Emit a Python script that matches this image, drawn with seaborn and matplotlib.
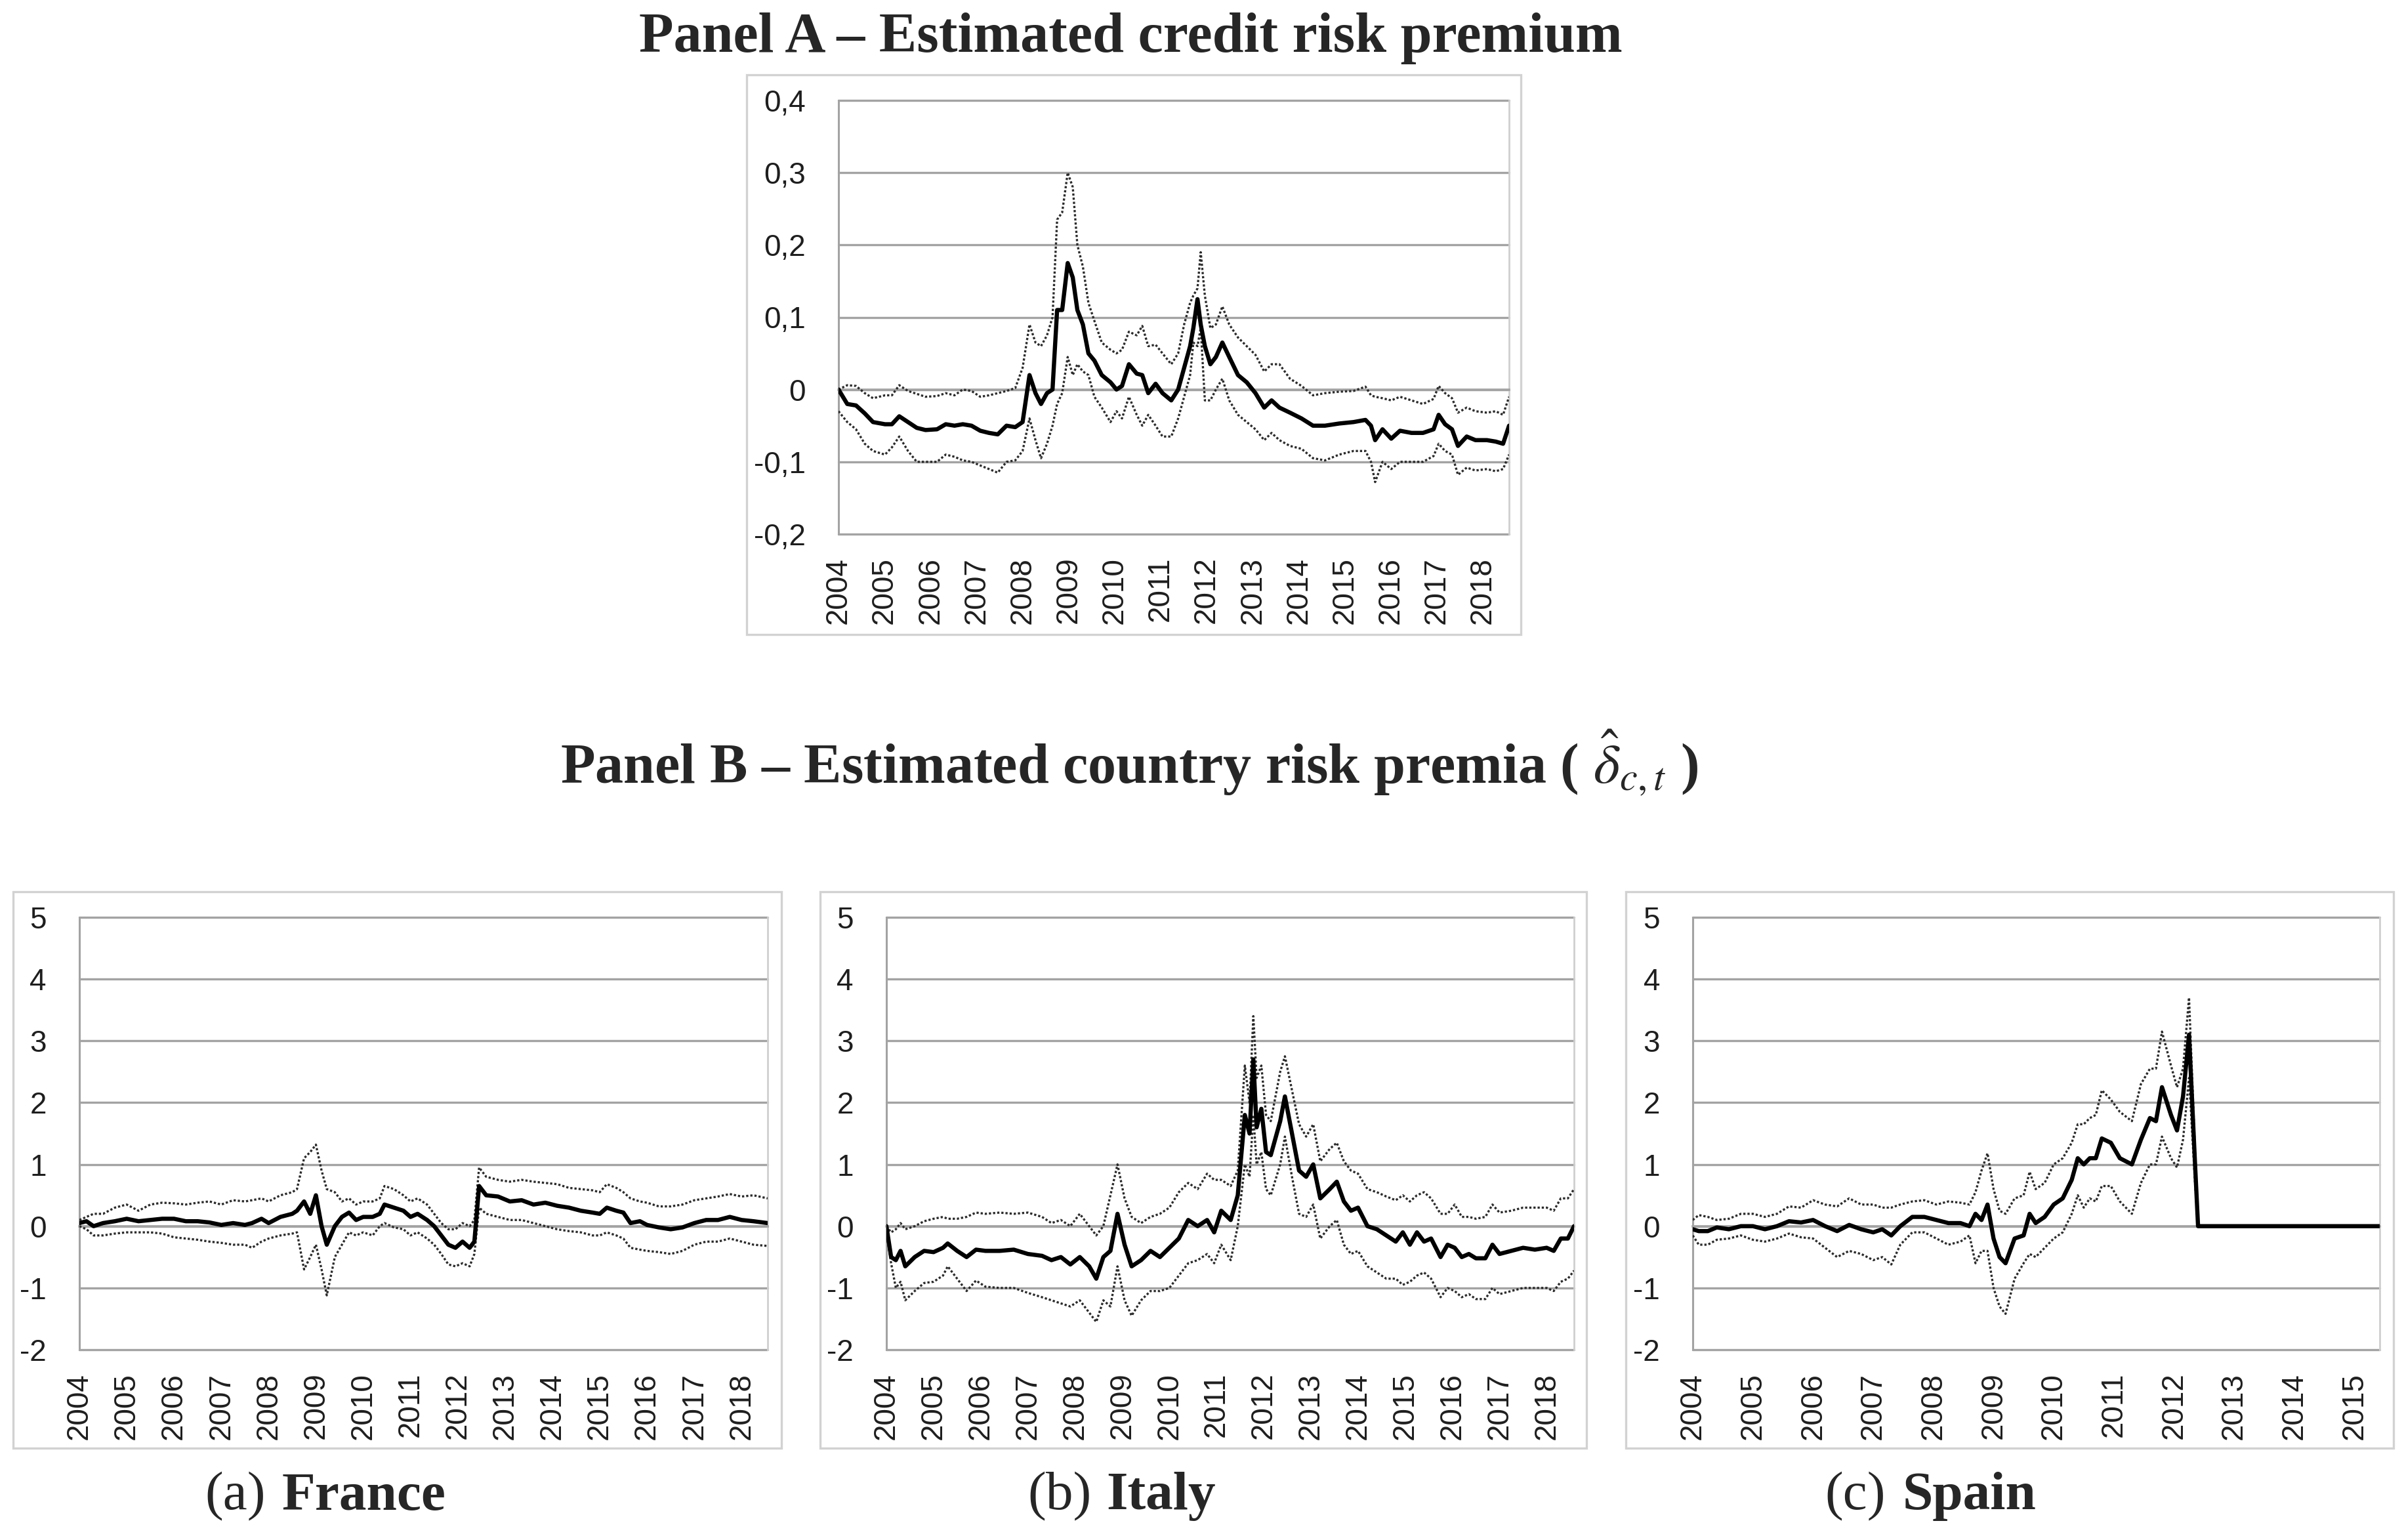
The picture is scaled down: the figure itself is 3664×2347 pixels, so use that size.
import matplotlib
matplotlib.use('Agg')
import matplotlib.pyplot as plt
from matplotlib.patches import Rectangle
import pandas as pd
import seaborn as sns

# ---- Panel A: estimated credit risk premium (x in decimal years) ----
a_years = [2004.00, 2004.19, 2004.38, 2004.57, 2004.75, 2005.01, 2005.16, 2005.32, 2005.51, 2005.70,
           2005.89, 2006.14, 2006.33, 2006.52, 2006.70, 2006.89, 2007.08, 2007.27, 2007.46, 2007.65,
           2007.84, 2008.00, 2008.15, 2008.28, 2008.40, 2008.53, 2008.65, 2008.75, 2008.86, 2008.98,
           2009.09, 2009.19, 2009.31, 2009.43, 2009.56, 2009.72, 2009.91, 2010.04, 2010.16, 2010.31,
           2010.48, 2010.60, 2010.73, 2010.89, 2011.04, 2011.23, 2011.38, 2011.51, 2011.64, 2011.71,
           2011.80, 2011.87, 2011.96, 2012.08, 2012.20, 2012.34, 2012.49, 2012.68, 2012.87, 2013.06,
           2013.25, 2013.41, 2013.58, 2013.81, 2014.06, 2014.31, 2014.57, 2014.88, 2015.19, 2015.45,
           2015.57, 2015.66, 2015.82, 2016.01, 2016.20, 2016.45, 2016.70, 2016.93, 2017.04, 2017.18,
           2017.33, 2017.46, 2017.65, 2017.84, 2018.09, 2018.28, 2018.44, 2018.57]
a_mid = [0.0, -0.02, -0.022, -0.033, -0.045, -0.048, -0.048, -0.037, -0.045, -0.053,
         -0.056, -0.055, -0.048, -0.05, -0.048, -0.05, -0.057, -0.06, -0.062, -0.05,
         -0.052, -0.045, 0.02, -0.005, -0.02, -0.005, 0.0, 0.11, 0.11, 0.175,
         0.155, 0.11, 0.09, 0.05, 0.04, 0.02, 0.01, 0.0, 0.005, 0.035,
         0.022, 0.02, -0.005, 0.008, -0.005, -0.015, 0.0, 0.03, 0.06, 0.085,
         0.125, 0.09, 0.06, 0.035, 0.045, 0.065, 0.045, 0.02, 0.01, -0.005,
         -0.025, -0.015, -0.025, -0.032, -0.04, -0.05, -0.05, -0.047, -0.045, -0.042,
         -0.05, -0.07, -0.055, -0.068, -0.057, -0.06, -0.06, -0.055, -0.035, -0.048,
         -0.055, -0.078, -0.065, -0.07, -0.07, -0.072, -0.075, -0.05]
a_up = [0.0, 0.006, 0.005, -0.005, -0.012, -0.008, -0.008, 0.006, -0.002, -0.006,
        -0.01, -0.009, -0.005, -0.008, 0.0, -0.002, -0.01, -0.008, -0.005, -0.002,
        0.002, 0.03, 0.09, 0.065, 0.06, 0.075, 0.1, 0.235, 0.245, 0.3,
        0.28, 0.2, 0.17, 0.12, 0.095, 0.065, 0.055, 0.05, 0.055, 0.08,
        0.075, 0.088, 0.06, 0.062, 0.05, 0.035, 0.05, 0.09, 0.12, 0.13,
        0.14, 0.19, 0.13, 0.085, 0.09, 0.115, 0.09, 0.072, 0.06, 0.048,
        0.025, 0.035, 0.035, 0.015, 0.005, -0.008, -0.005, -0.003, -0.002, 0.004,
        -0.008, -0.01, -0.012, -0.015, -0.01, -0.015, -0.02, -0.013, 0.005, -0.005,
        -0.012, -0.032, -0.025, -0.03, -0.032, -0.03, -0.035, -0.01]
a_lo = [-0.03, -0.045, -0.055, -0.075, -0.085, -0.09, -0.08, -0.065, -0.085, -0.1,
        -0.1, -0.1, -0.09, -0.093, -0.098, -0.1, -0.105, -0.11, -0.115, -0.1,
        -0.098, -0.085, -0.04, -0.07, -0.095, -0.075, -0.05, -0.02, -0.005, 0.045,
        0.02, 0.035, 0.025, 0.02, -0.01, -0.025, -0.045, -0.03, -0.04, -0.01,
        -0.035, -0.05, -0.035, -0.05, -0.065, -0.065, -0.04, -0.01, 0.02, 0.065,
        0.06, 0.085, -0.015, -0.015, 0.0, 0.015, -0.015, -0.035, -0.045, -0.055,
        -0.07, -0.06, -0.07, -0.078, -0.082, -0.095, -0.098, -0.09, -0.085, -0.085,
        -0.1, -0.128, -0.1, -0.11, -0.1, -0.1, -0.1, -0.092, -0.075, -0.085,
        -0.09, -0.118, -0.108, -0.112, -0.11, -0.113, -0.11, -0.09]
a_yticks = [-0.2, -0.1, 0.0, 0.1, 0.2, 0.3, 0.4]
a_ylabels = ['-0,2', '-0,1', '0', '0,1', '0,2', '0,3', '0,4']

# ---- Panel B: country risk premia ----
fr_years = [2004.0, 2004.15, 2004.3, 2004.5, 2004.75, 2005.0, 2005.25, 2005.5, 2005.75, 2006.0,
            2006.25, 2006.5, 2006.75, 2007.0, 2007.25, 2007.5, 2007.65, 2007.85, 2008.0, 2008.25,
            2008.5, 2008.6, 2008.75, 2008.88, 2009.0, 2009.12, 2009.23, 2009.4, 2009.55, 2009.7,
            2009.85, 2010.0, 2010.2, 2010.35, 2010.45, 2010.65, 2010.85, 2011.0, 2011.15, 2011.35,
            2011.5, 2011.65, 2011.8, 2011.95, 2012.1, 2012.25, 2012.35, 2012.45, 2012.6, 2012.85,
            2013.1, 2013.35, 2013.6, 2013.85, 2014.1, 2014.35, 2014.6, 2014.85, 2015.0, 2015.15,
            2015.35, 2015.5, 2015.65, 2015.85, 2016.0, 2016.25, 2016.5, 2016.75, 2017.0, 2017.25,
            2017.5, 2017.75, 2018.0, 2018.25, 2018.55]
fr_mid = [0.05, 0.08, 0.0, 0.05, 0.08, 0.12, 0.08, 0.1, 0.12, 0.12,
          0.08, 0.08, 0.06, 0.02, 0.05, 0.02, 0.05, 0.12, 0.05, 0.15,
          0.2, 0.25, 0.4, 0.2, 0.5, 0.0, -0.3, 0.0, 0.15, 0.22,
          0.1, 0.15, 0.15, 0.2, 0.35, 0.3, 0.25, 0.15, 0.2, 0.1,
          0.0, -0.15, -0.3, -0.35, -0.25, -0.35, -0.25, 0.65, 0.5, 0.48,
          0.4, 0.42, 0.35, 0.38, 0.33, 0.3, 0.25, 0.22, 0.2, 0.3,
          0.25, 0.22, 0.05, 0.08, 0.02, -0.02, -0.05, -0.02, 0.05, 0.1,
          0.1, 0.15, 0.1, 0.08, 0.05]
fr_up = [0.1, 0.15, 0.2, 0.2, 0.3, 0.35, 0.25, 0.35, 0.38, 0.37,
         0.35, 0.38, 0.4, 0.35, 0.42, 0.4, 0.42, 0.45, 0.4, 0.5,
         0.55, 0.6, 1.1, 1.2, 1.32, 0.9, 0.6, 0.55, 0.4, 0.45,
         0.35, 0.4, 0.4, 0.45, 0.65, 0.6, 0.5, 0.4, 0.45, 0.35,
         0.2, 0.05, -0.05, -0.05, 0.05, 0.0, 0.1, 0.95, 0.8, 0.75,
         0.72, 0.75, 0.72, 0.7, 0.68, 0.62, 0.6, 0.58, 0.55, 0.68,
         0.62, 0.55, 0.45, 0.4, 0.38, 0.32, 0.32, 0.35, 0.42, 0.45,
         0.48, 0.52, 0.48, 0.5, 0.45]
fr_lo = [0.0, -0.05, -0.15, -0.15, -0.12, -0.1, -0.1, -0.1, -0.12, -0.18,
         -0.2, -0.22, -0.25, -0.27, -0.3, -0.3, -0.35, -0.25, -0.2, -0.15,
         -0.12, -0.1, -0.7, -0.5, -0.3, -0.7, -1.12, -0.5, -0.3, -0.1,
         -0.15, -0.1, -0.15, 0.0, 0.05, -0.02, -0.05, -0.15, -0.1, -0.2,
         -0.3, -0.45, -0.62, -0.65, -0.6, -0.65, -0.45, 0.3, 0.2, 0.15,
         0.1, 0.1, 0.05, 0.0, -0.05, -0.08, -0.1, -0.15, -0.15, -0.1,
         -0.15, -0.2, -0.35, -0.38, -0.4, -0.42, -0.45, -0.4, -0.3, -0.25,
         -0.25, -0.2, -0.25, -0.3, -0.32]

it_years = [2004.0, 2004.1, 2004.2, 2004.3, 2004.4, 2004.6, 2004.8, 2005.0, 2005.2, 2005.3,
            2005.5, 2005.7, 2005.9, 2006.1, 2006.4, 2006.7, 2007.0, 2007.3, 2007.5, 2007.7,
            2007.9, 2008.1, 2008.3, 2008.45, 2008.6, 2008.75, 2008.9, 2009.05, 2009.2, 2009.4,
            2009.6, 2009.8, 2010.0, 2010.2, 2010.4, 2010.6, 2010.8, 2010.95, 2011.1, 2011.3,
            2011.45, 2011.6, 2011.7, 2011.78, 2011.85, 2011.95, 2012.05, 2012.15, 2012.35, 2012.45,
            2012.6, 2012.75, 2012.9, 2013.05, 2013.2, 2013.4, 2013.55, 2013.7, 2013.85, 2014.0,
            2014.2, 2014.4, 2014.6, 2014.8, 2014.95, 2015.1, 2015.25, 2015.4, 2015.55, 2015.75,
            2015.9, 2016.05, 2016.2, 2016.35, 2016.5, 2016.7, 2016.85, 2017.0, 2017.25, 2017.5,
            2017.75, 2018.0, 2018.15, 2018.3, 2018.45, 2018.58]
it_mid = [0.0, -0.5, -0.55, -0.4, -0.65, -0.5, -0.4, -0.42, -0.35, -0.28,
          -0.4, -0.5, -0.38, -0.4, -0.4, -0.38, -0.45, -0.48, -0.55, -0.5,
          -0.62, -0.5, -0.65, -0.85, -0.5, -0.4, 0.2, -0.3, -0.65, -0.55,
          -0.4, -0.5, -0.35, -0.2, 0.1, 0.0, 0.1, -0.1, 0.25, 0.1,
          0.5, 1.8, 1.5, 2.7, 1.6, 1.9, 1.2, 1.15, 1.7, 2.1,
          1.5, 0.9, 0.8, 1.0, 0.45, 0.6, 0.72, 0.4, 0.25, 0.3,
          0.0, -0.05, -0.15, -0.25, -0.1, -0.3, -0.1, -0.25, -0.2, -0.5,
          -0.3, -0.35, -0.5, -0.45, -0.52, -0.52, -0.3, -0.45, -0.4, -0.35,
          -0.38, -0.35, -0.4, -0.2, -0.2, 0.0]
it_up = [0.0, -0.1, -0.05, 0.05, -0.05, 0.0, 0.08, 0.12, 0.15, 0.12,
         0.12, 0.15, 0.22, 0.2, 0.22, 0.2, 0.22, 0.15, 0.05, 0.1,
         0.0, 0.2, 0.0, -0.15, 0.0, 0.5, 1.0, 0.45, 0.15, 0.05,
         0.15, 0.2, 0.3, 0.55, 0.7, 0.6, 0.85, 0.75, 0.75, 0.65,
         0.9, 2.6, 2.0, 3.4, 2.4, 2.6, 1.8, 1.7, 2.5, 2.75,
         2.2, 1.65, 1.45, 1.65, 1.05, 1.25, 1.35, 1.05, 0.9, 0.85,
         0.6, 0.55, 0.48, 0.42, 0.5, 0.4, 0.5, 0.55, 0.45, 0.2,
         0.2, 0.35, 0.15, 0.15, 0.12, 0.15, 0.35, 0.22, 0.25, 0.3,
         0.3, 0.3, 0.25, 0.45, 0.45, 0.6]
it_lo = [-0.1, -0.6, -1.0, -0.9, -1.2, -1.05, -0.92, -0.9, -0.8, -0.65,
         -0.85, -1.05, -0.88, -0.98, -1.0, -1.0, -1.08, -1.15, -1.2, -1.25,
         -1.3, -1.2, -1.4, -1.55, -1.2, -1.3, -0.65, -1.2, -1.45, -1.2,
         -1.05, -1.05, -1.0, -0.8, -0.6, -0.55, -0.45, -0.6, -0.3, -0.55,
         0.0, 1.0, 0.8, 1.8, 1.0, 1.2, 0.6, 0.5, 1.0, 1.45,
         0.8, 0.2, 0.15, 0.35, -0.2, 0.0, 0.1, -0.3, -0.45, -0.4,
         -0.65, -0.75, -0.85, -0.85, -0.95, -0.9, -0.8, -0.75, -0.85, -1.15,
         -1.0, -1.05, -1.15, -1.1, -1.18, -1.18, -1.0, -1.1, -1.05, -1.0,
         -1.0, -1.0, -1.05, -0.9, -0.85, -0.72]

es_years = [2004.0, 2004.1, 2004.25, 2004.4, 2004.6, 2004.8, 2005.0, 2005.2, 2005.4, 2005.6,
            2005.8, 2006.0, 2006.2, 2006.4, 2006.6, 2006.8, 2007.0, 2007.15, 2007.3, 2007.45,
            2007.65, 2007.85, 2008.05, 2008.25, 2008.45, 2008.6, 2008.7, 2008.8, 2008.9, 2009.0,
            2009.1, 2009.2, 2009.35, 2009.5, 2009.6, 2009.7, 2009.85, 2010.0, 2010.15, 2010.3,
            2010.4, 2010.5, 2010.6, 2010.7, 2010.8, 2010.95, 2011.1, 2011.3, 2011.45, 2011.6,
            2011.7, 2011.8, 2011.95, 2012.05, 2012.15, 2012.25, 2012.35, 2012.4, 2013.0, 2014.0,
            2015.0, 2015.42]
es_mid = [-0.05, -0.08, -0.08, -0.02, -0.05, 0.0, 0.0, -0.05, 0.0, 0.08,
          0.06, 0.1, 0.0, -0.08, 0.02, -0.05, -0.1, -0.05, -0.15, 0.0,
          0.15, 0.15, 0.1, 0.05, 0.05, 0.0, 0.2, 0.1, 0.35, -0.2,
          -0.5, -0.6, -0.2, -0.15, 0.2, 0.05, 0.15, 0.35, 0.45, 0.75,
          1.1, 1.0, 1.1, 1.1, 1.42, 1.35, 1.1, 1.0, 1.4, 1.75,
          1.7, 2.25, 1.8, 1.55, 2.1, 3.1, 1.0, 0.0, 0.0, 0.0,
          0.0, 0.0]
es_up = [0.1, 0.18, 0.15, 0.1, 0.12, 0.2, 0.2, 0.15, 0.2, 0.32,
         0.3, 0.42, 0.35, 0.32, 0.45, 0.35, 0.35, 0.3, 0.3, 0.35,
         0.4, 0.42, 0.35, 0.4, 0.38, 0.35, 0.55, 0.9, 1.18, 0.6,
         0.25, 0.2, 0.45, 0.5, 0.88, 0.6, 0.7, 1.0, 1.1, 1.35,
         1.65, 1.65, 1.75, 1.8, 2.2, 2.05, 1.85, 1.7, 2.3, 2.55,
         2.55, 3.15, 2.6, 2.25, 2.55, 3.7, 1.2, 0.0, 0.0, 0.0,
         0.0, 0.0]
es_lo = [-0.15, -0.3, -0.3, -0.22, -0.2, -0.15, -0.22, -0.25, -0.2, -0.12,
         -0.18, -0.2, -0.35, -0.5, -0.4, -0.45, -0.55, -0.5, -0.62, -0.3,
         -0.1, -0.1, -0.2, -0.3, -0.25, -0.15, -0.6, -0.4, -0.4, -1.0,
         -1.3, -1.42, -0.85, -0.6, -0.45, -0.5, -0.35, -0.2, -0.1, 0.2,
         0.5, 0.3, 0.45, 0.4, 0.65, 0.65, 0.4, 0.2, 0.7, 1.0,
         1.0, 1.45, 1.1, 0.95, 1.4, 2.4, 0.7, 0.0, 0.0, 0.0,
         0.0, 0.0]

b_yticks = [-2, -1, 0, 1, 2, 3, 4, 5]
b_ylabels = ['-2', '-1', '0', '1', '2', '3', '4', '5']
years_to_2018 = list(range(2004, 2019))
years_to_2015 = list(range(2004, 2016))

panel_a_title = 'Panel A \u2013 Estimated credit risk premium'
panel_b_title = 'Panel B \u2013 Estimated country risk premia ( $\\hat{\\delta}_{c,t}$ )'
captions = [('(a)', 'France'), ('(b)', 'Italy'), ('(c)', 'Spain')]

sns.set_style('white')
plt.rcParams['font.family'] = ['Liberation Sans', 'DejaVu Sans']
plt.rcParams['mathtext.fontset'] = 'stix'
SERIF = ['Liberation Serif', 'DejaVu Serif']
GRID = '#a3a3a3'
LABEL = '#1e1e1e'
TICK_FS = 16.5

W, H = 3664, 2347
fig = plt.figure(figsize=(W / 200, H / 200), dpi=200)


def px_axes(x0, y0, x1, y1):
    # rectangle given in pixels from the top-left corner
    return [x0 / W, 1 - y1 / H, (x1 - x0) / W, (y1 - y0) / H]


def draw(ax, years, mid, up, lo, xticks, xend, yticks, ylabels, tick_dir, tick_len):
    df = pd.DataFrame({'year': years, 'mid': mid, 'up': up, 'lo': lo})
    for col in ['up', 'lo']:
        sns.lineplot(data=df, x='year', y=col, ax=ax, color='#2b2b2b', lw=1.2,
                     linestyle=(0, (1.0, 0.9)), estimator=None, zorder=3)
    sns.lineplot(data=df, x='year', y='mid', ax=ax, color='black', lw=2.3,
                 estimator=None, zorder=4)
    ax.set_xlim(xticks[0], xend)
    ax.set_ylim(yticks[0], yticks[-1])
    ax.set_yticks(yticks)
    ax.set_yticklabels(ylabels)
    ax.grid(axis='y', color=GRID, lw=1.2)
    ax.grid(axis='x', visible=False)
    for gl in ax.get_ygridlines():
        gl.set_clip_on(False)
    ax.spines['top'].set_visible(False)
    ax.spines['right'].set_color('#cfcfcf')
    ax.spines['right'].set_linewidth(1.0)
    ax.spines['left'].set_color(GRID)
    ax.spines['left'].set_linewidth(1.1)
    ax.spines['bottom'].set_position(('data', 0))
    ax.spines['bottom'].set_color(GRID)
    ax.spines['bottom'].set_linewidth(1.3)
    ax.set_xticks(xticks)
    ax.tick_params(axis='x', direction=tick_dir, length=tick_len, color=GRID, width=1.0,
                   labelbottom=False)
    ax.tick_params(axis='y', direction='out', length=6, color=GRID, width=1.2,
                   labelsize=TICK_FS, labelcolor=LABEL, pad=12)
    ax.set_xlabel('')
    ax.set_ylabel('')
    sec = ax.secondary_xaxis('bottom')
    sec.set_xticks(xticks, labels=[str(y) for y in xticks])
    sec.tick_params(length=0, pad=12.5, labelsize=TICK_FS, labelcolor=LABEL, labelrotation=90)
    sec.spines['bottom'].set_visible(False)


# chart-area frames (Excel style)
for x0, y0, x1, y1 in [(1138, 114, 2318, 967), (20, 1359, 1191, 2207),
                       (1250, 1359, 2418, 2207), (2478, 1359, 3648, 2207)]:
    l, b, w, h = px_axes(x0, y0, x1, y1)
    fig.add_artist(Rectangle((l, b), w, h, transform=fig.transFigure, fill=False,
                             edgecolor='#d2d2d2', lw=1.2))

ax_a = fig.add_axes(px_axes(1278, 153, 2300, 814))
draw(ax_a, a_years, a_mid, a_up, a_lo, years_to_2018, a_years[-1], a_yticks, a_ylabels,
     'inout', 10)

ax_fr = fig.add_axes(px_axes(121, 1398, 1170, 2057))
draw(ax_fr, fr_years, fr_mid, fr_up, fr_lo, years_to_2018, fr_years[-1], b_yticks, b_ylabels,
     'out', 5.5)
ax_it = fig.add_axes(px_axes(1351, 1398, 2399, 2057))
draw(ax_it, it_years, it_mid, it_up, it_lo, years_to_2018, it_years[-1], b_yticks, b_ylabels,
     'out', 5.5)
ax_es = fig.add_axes(px_axes(2580, 1398, 3627, 2057))
draw(ax_es, es_years, es_mid, es_up, es_lo, years_to_2015, es_years[-1], b_yticks, b_ylabels,
     'out', 5.5)

fig.text(1723 / W, 1 - 58 / H, panel_a_title, ha='center', va='center', fontsize=31,
         fontweight='bold', family=SERIF)
fig.text(1721 / W, 1 - 1163 / H, panel_b_title, ha='center', va='center', fontsize=31,
         fontweight='bold', family=SERIF)

# sub-captions: "(a)" regular, country bold
for (tag, name), (xa, xb) in zip(captions, [(405, 430), (1664, 1686), (2874, 2900)]):
    fig.text(xa / W, 1 - 2281 / H, tag, ha='right', va='center', fontsize=30, family=SERIF)
    fig.text(xb / W, 1 - 2281 / H, name, ha='left', va='center', fontsize=30,
             fontweight='bold', family=SERIF)

fig.savefig('out.png', dpi=200)
